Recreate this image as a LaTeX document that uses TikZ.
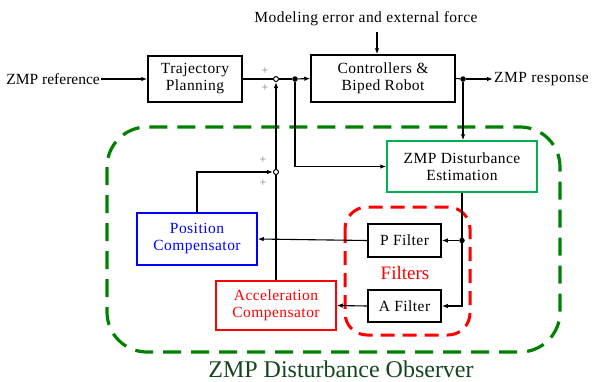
\documentclass[tikz,border=0pt]{standalone}
\usepackage{fontspec}
\setmainfont{Liberation Serif}
\usetikzlibrary{arrows.meta}
\definecolor{estgreen}{RGB}{0,176,80}
\definecolor{obsgreen}{RGB}{0,128,0}
\definecolor{txtgreen}{RGB}{20,70,30}
\newcommand{\mytxt}{\fontsize{15.5}{17}\selectfont\addfontfeatures{LetterSpace=3}}
\begin{document}
\begin{tikzpicture}[x=1pt,y=-1pt,
  blk/.style={draw, line width=1.5pt, align=center, inner sep=0pt, font=\mytxt},
  arr/.style={-{Latex[length=6pt,width=4.5pt]}, line width=1.1pt},
  ln/.style={line width=1.1pt},
  lbl/.style={font=\mytxt, inner sep=1pt},
  plus/.style={font=\fontsize{12}{12}\selectfont, text=gray, inner sep=0pt},
  sumc/.style={circle, draw, line width=1pt, fill=white, inner sep=0pt, minimum size=5pt},
  dotc/.style={circle, fill=black, inner sep=0pt, minimum size=5.5pt}]
\useasboundingbox (0,0) rectangle (604,381);
% big observer box
\draw[obsgreen, line width=3.2pt, dash pattern=on 18pt off 10pt, rounded corners=40pt] (107,127) rectangle (560,352);
\node[font=\fontsize{24}{26}\selectfont, text=txtgreen] (obs) at (341,369) {ZMP Disturbance Observer};
% filters box
\draw[red, line width=3pt, dash pattern=on 14pt off 8pt, rounded corners=22pt] (345,207) rectangle (470,335);
\node[font=\fontsize{19}{21}\selectfont, text=red] (flt) at (405,273) {Filters};
% top
\node[lbl] (mod) at (366,19) {Modeling error and external force};
\node[lbl, anchor=east, font=\fontsize{15.5}{17}\selectfont\addfontfeatures{LetterSpace=0}] (zr) at (101,79) {ZMP reference};
\node[blk, minimum width=94pt, minimum height=46pt] (tp) at (195,79) {Trajectory\\Planning};
\node[blk, minimum width=144pt, minimum height=47pt] (cb) at (383,78.5) {Controllers \&\\Biped Robot};
\node[lbl, anchor=west] (zresp) at (493,79) {ZMP response};
\node[sumc] (s1) at (276,79) {};
\node[dotc] (j1) at (295,79) {};
\node[dotc] (j2) at (463,79) {};
\coordinate (mtop) at (377,32);
% observer parts
\node[blk, draw=estgreen, minimum width=150pt, minimum height=51pt] (est) at (462,166.5) {ZMP Disturbance\\Estimation};
\node[blk, minimum width=73pt, minimum height=33pt] (pf) at (404.5,240.5) {P Filter};
\node[blk, minimum width=73pt, minimum height=32pt] (af) at (404.5,306) {A Filter};
\node[blk, draw=blue, text=blue, minimum width=120pt, minimum height=52pt] (pc) at (197,239) {Position\\Compensator};
\node[blk, draw=red, text=red, minimum width=120pt, minimum height=49pt] (ac) at (276,305.5) {Acceleration\\Compensator};
\node[sumc] (s2) at (276,172) {};
\node[dotc] (j3) at (462,240.5) {};
% plus signs
\node[plus] (p1) at (265,71) {+};
\node[plus] (p2) at (265,88) {+};
\node[plus] (p3) at (263,160) {+};
\node[plus] (p4) at (263,183) {+};
% connectors
\draw[arr] (mtop) -- (mtop |- cb.north);
\draw[arr] (zr.east) -- (tp.west);
\draw[ln] (tp.east) -- (s1.west);
\draw[ln] (s1.east) -- (j1);
\draw[arr] (j1) -- (cb.west);
\draw[ln] (cb.east) -- (j2);
\draw[arr] (j2) -- (zresp.west);
\draw[arr] (j2) -- (est.north -| j2);
\draw[arr] (j1) |- (est.west);
\draw[ln] (est.south) -- (j3);
\draw[arr] (j3) -- (pf.east);
\draw[arr] (j3) |- (af.east);
\draw[arr] (pf.west) -- (pc.east);
\draw[arr] (af.west) -- (ac.east);
\draw[arr] (pc.north) |- (s2.west);
\draw[ln] (ac.north) -- (s2.south);
\draw[arr] (s2.north) -- (s1.south);
\end{tikzpicture}
\end{document}
